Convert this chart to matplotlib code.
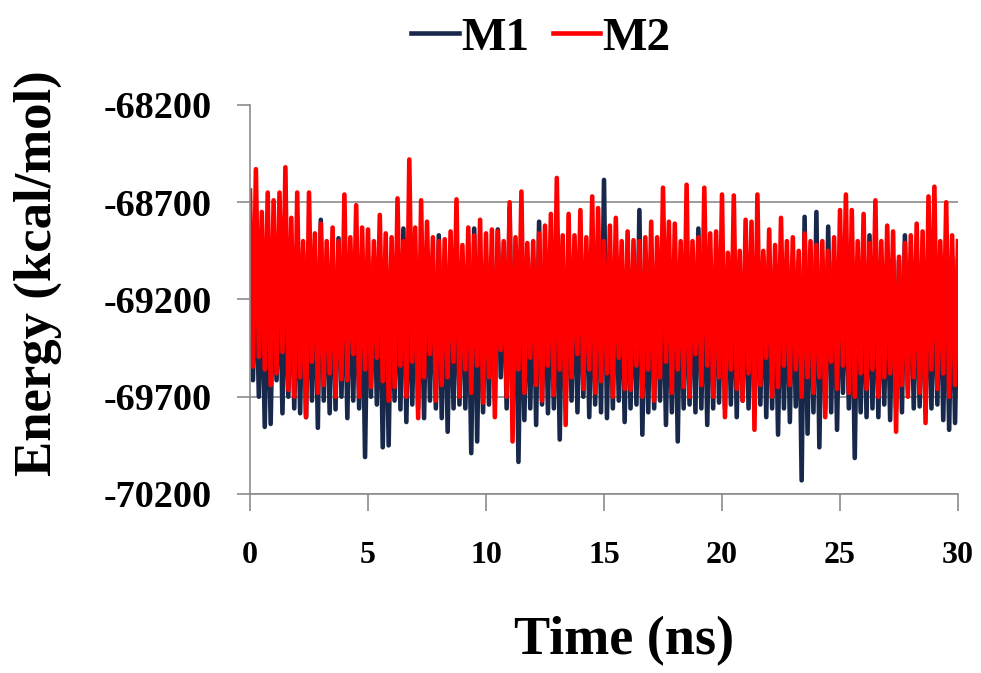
import numpy as np
import matplotlib
matplotlib.use("Agg")
import matplotlib.pyplot as plt

plt.rcParams['font.family'] = ['Liberation Serif', 'DejaVu Serif']
plt.rcParams['font.weight'] = 'bold'

# energy values (kcal/mol), 8 samples per ns, 0..30 ns
m1 = [
    -69000, -69615, -68980, -69700, -69020, -69855, -68990, -69840,
    -69010, -69615, -68970, -69785, -69030, -69700, -68990, -69760,
    -69000, -69785, -68960, -69805, -69020, -69720, -68980, -69860,
    -68790, -69720, -69000, -69785, -68980, -69765, -68885, -69700,
    -69010, -69810, -68970, -69720, -69030, -69760, -68990, -70010,
    -69000, -69700, -68980, -69740, -69020, -69960, -68990, -69950,
    -69010, -69720, -68970, -69765, -68835, -69830, -69000, -69740,
    -68990, -69760, -69020, -69810, -68980, -69720, -69010, -69760,
    -68870, -69810, -68990, -69880, -69020, -69760, -68980, -69740,
    -69000, -69760, -69010, -69990, -68835, -69930, -68990, -69780,
    -69020, -69740, -68980, -69720, -68840, -69600, -69000, -69760,
    -68730, -69780, -69010, -70035, -68990, -69820, -69020, -69760,
    -68990, -69845, -68800, -69740, -69000, -69785, -68980, -69760,
    -69010, -69920, -68970, -69760, -69020, -69720, -68990, -69780,
    -69000, -69700, -68980, -69805, -69010, -69740, -68990, -69780,
    -68585, -69810, -69000, -69760, -68980, -69720, -69010, -69830,
    -68990, -69760, -69020, -69740, -68740, -69895, -69000, -69780,
    -68980, -69760, -69010, -69720, -68990, -69845, -69020, -69780,
    -69000, -69930, -68980, -69760, -69010, -69740, -68990, -69780,
    -68835, -69760, -69000, -69845, -68980, -69760, -69010, -69730,
    -68990, -69760, -69020, -69740, -68980, -69805, -69000, -69720,
    -69010, -69760, -68990, -69780, -69000, -69740, -68980, -69805,
    -69000, -69760, -69020, -69895, -68990, -69760, -69010, -69830,
    -68980, -69750, -69000, -70130, -68775, -69890, -69010, -69780,
    -68750, -69960, -68990, -69760, -68825, -69780, -69000, -69870,
    -69010, -69680, -68980, -69760, -69000, -70015, -68990, -69780,
    -69020, -69805, -68870, -69760, -69000, -69805, -68980, -69740,
    -69010, -69820, -68990, -69760, -69000, -69780, -68870, -69665,
    -68990, -69760, -69010, -69750, -68980, -69780, -69000, -69760,
    -69010, -69740, -68990, -69820, -69000, -69870, -68980, -69835,
    -69000,
]

m2 = [
    -68640, -69545, -68530, -69495, -68750, -69560, -68650, -69640,
    -68690, -69580, -68650, -69470, -68520, -69665, -68780, -69700,
    -68650, -69600, -68900, -69805, -68650, -69520, -68860, -69680,
    -68810, -69640, -68900, -69580, -68830, -69700, -68900, -69610,
    -68660, -69615, -68880, -69480, -68715, -69700, -68830, -69560,
    -68840, -69650, -68900, -69500, -68765, -69620, -68860, -69720,
    -68880, -69650, -68680, -69540, -68900, -69700, -68480, -69520,
    -68830, -69810, -68690, -69600, -68800, -69480, -68880, -69720,
    -68900, -69640, -68890, -69600, -68850, -69520, -68685, -69700,
    -68920, -69560, -68830, -69680, -68870, -69540, -68790, -69730,
    -68860, -69600, -68840, -69805, -68850, -69460, -68900, -69700,
    -68700, -69930, -68880, -69560, -68645, -69680, -68910, -69500,
    -68900, -69640, -68860, -69720, -68820, -69540, -68760, -69690,
    -68575, -69560, -68870, -69845, -68760, -69600, -68870, -69480,
    -68740, -69660, -68880, -69560, -68670, -69680, -68730, -69620,
    -68900, -69580, -68820, -69700, -68780, -69500, -68900, -69660,
    -68850, -69665, -68895, -69540, -68900, -69700, -68880, -69560,
    -68800, -69720, -68880, -69600, -68625, -69520, -68800, -69680,
    -68810, -69560, -68900, -69650, -68610, -69700, -68900, -69480,
    -68880, -69640, -68625, -69540, -68860, -69700, -68850, -69600,
    -68660, -69805, -68960, -69560, -68665, -69660, -68950, -69720,
    -68790, -69580, -68800, -69870, -68660, -69640, -68950, -69500,
    -68840, -69700, -68920, -69650, -68780, -69540, -68900, -69640,
    -68880, -69560, -68950, -69700, -68860, -69600, -68900, -69680,
    -68920, -69600, -68900, -69805, -68950, -69520, -68880, -69660,
    -68740, -69540, -68660, -69680, -68740, -69700, -68900, -69580,
    -68760, -69660, -68910, -69560, -68690, -69700, -68900, -69600,
    -68820, -69580, -68850, -69880, -68980, -69640, -68910, -69700,
    -68870, -69600, -68810, -69680, -68850, -69835, -68670, -69560,
    -68620, -69660, -68900, -69580, -68700, -69700, -68870, -69640,
    -68900,
]

time_ns = np.linspace(0, 30, len(m1))
yticks = [-70200, -69700, -69200, -68700, -68200]
xticks = [0, 5, 10, 15, 20, 25, 30]

fig = plt.figure(figsize=(9.81, 6.73), dpi=100)
ax = fig.add_axes([250 / 981, 1 - 494 / 673, 708 / 981, 389 / 673])

ax.plot(time_ns, m1, color='#18284a', lw=3.3, label='M1')
ax.plot(time_ns, m2, color='#ff0000', lw=3.3, label='M2')

ax.set_xlim(0, 30)
ax.set_ylim(-70200, -68200)
ax.set_xticks(xticks)
ax.set_yticks(yticks)
ax.set_yticklabels([str(v) for v in yticks])

ax.yaxis.grid(True, color='#8c8c8c', lw=1.2)
ax.get_ygridlines()[-1].set_visible(False)
ax.set_axisbelow(True)

for s in ['top', 'right']:
    ax.spines[s].set_visible(False)
for s in ['left', 'bottom']:
    ax.spines[s].set_color('#8c8c8c')
    ax.spines[s].set_linewidth(1.2)

ax.tick_params(axis='y', direction='out', length=9.5, width=1.2, color='#8c8c8c',
               labelsize=27.5, pad=18)
ax.tick_params(axis='x', direction='out', length=12, width=1.2, color='#8c8c8c',
               labelsize=23, pad=22)

fig.text(624 / 981, 1 - 641 / 673, 'Time (ns)', ha='center', va='center',
         fontsize=39, fontweight='bold')
fig.text(38 / 981, 1 - 273 / 673, 'Energy (kcal/mol)', ha='center', va='center',
         rotation=90, fontsize=38, fontweight='bold')

fig.legend(loc='center', bbox_to_anchor=(541 / 981, 1 - 38 / 673), ncol=2,
           frameon=False, fontsize=34, handlelength=1.0, handletextpad=0.05,
           columnspacing=0.5, borderpad=0)

fig.savefig('out.png', dpi=100)
